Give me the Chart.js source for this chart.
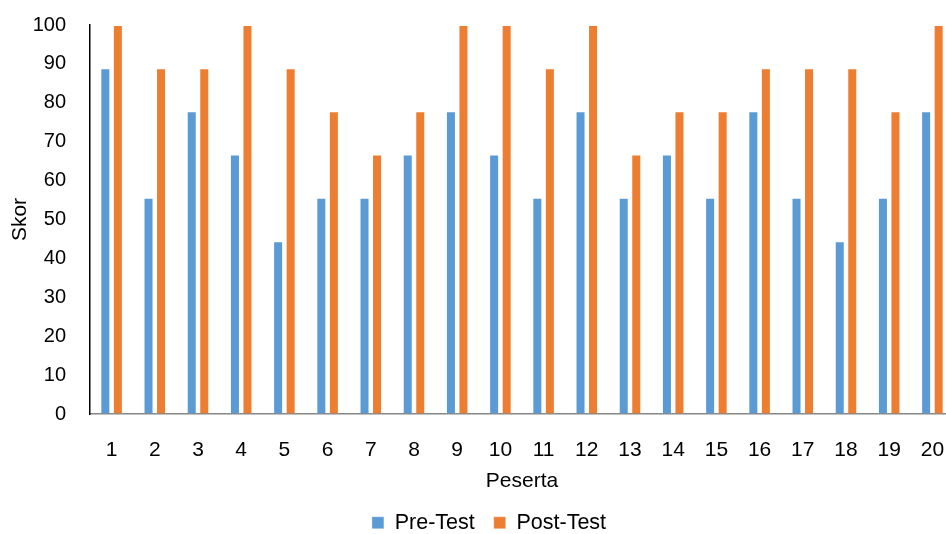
<!DOCTYPE html>
<html>
<head>
<meta charset="utf-8">
<script src="https://cdn.jsdelivr.net/npm/chart.js@4/dist/chart.umd.min.js"></script>
<style>
  html, body { margin: 0; padding: 0; background: #fff; overflow: hidden; }
  #wrap { width: 976px; height: 534px; }
</style>
</head>
<body>
<div id="wrap"><canvas id="chart" width="976" height="534"></canvas></div>
<script>
// Data
const peserta = ['1','2','3','4','5','6','7','8','9','10','11','12','13','14','15','16','17','18','19','20'];
const preTest = [88.9, 55.6, 77.8, 66.7, 44.4, 55.6, 55.6, 66.7, 77.8, 66.7, 55.6, 77.8, 55.6, 66.7, 55.6, 77.8, 55.6, 44.4, 55.6, 77.8];
const postTest = [100, 88.9, 88.9, 100, 88.9, 77.8, 66.7, 77.8, 100, 100, 88.9, 100, 66.7, 77.8, 77.8, 88.9, 88.9, 88.9, 77.8, 100];

const FONT = 'Liberation Sans, Arial, sans-serif';

// legend sits low and a bit to the right in the original (plot is cut at the right edge)
const legendTweak = {
  id: 'legendTweak',
  afterInit(chart) {
    const lg = chart.legend;
    const fit = lg.fit.bind(lg);
    lg.fit = function () {
      fit();
      this.height = 41;
    };
  },
  afterLayout(chart) {
    chart.legend.left += 12;
    chart.legend.right += 12;
  }
};

const ctx = document.getElementById('chart');
new Chart(ctx, {
  type: 'bar',
  data: {
    labels: peserta,
    datasets: [
      {
        label: 'Pre-Test',
        data: preTest,
        backgroundColor: '#5b9bd5',
        borderColor: 'rgba(255,255,255,0.35)',
        borderWidth: 1,
        categoryPercentage: 0.58,
        barPercentage: 0.8
      },
      {
        label: 'Post-Test',
        data: postTest,
        backgroundColor: '#ed7d31',
        borderColor: 'rgba(255,255,255,0.35)',
        borderWidth: 1,
        categoryPercentage: 0.58,
        barPercentage: 0.8
      }
    ]
  },
  plugins: [legendTweak],
  options: {
    responsive: false,
    animation: false,
    layout: {
      padding: { top: 25, right: 22, left: 0, bottom: 0 }
    },
    plugins: {
      tooltip: { enabled: false },
      legend: {
        position: 'bottom',
        labels: {
          color: '#000',
          font: { family: FONT, size: 21.5 },
          boxWidth: 12,
          boxHeight: 12,
          padding: 19
        }
      }
    },
    scales: {
      x: {
        grid: { display: false, drawTicks: false },
        border: { color: '#868686', width: 1.5 },
        ticks: {
          color: '#000',
          font: { family: FONT, size: 21 },
          padding: 24,
          maxRotation: 0
        },
        title: {
          display: true,
          text: 'Peserta',
          color: '#000',
          font: { family: FONT, size: 21 },
          padding: { top: 0, bottom: -1 }
        },
        afterFit: (scale) => { scale.height = 79; }
      },
      y: {
        min: 0,
        max: 100,
        // invisible tick marks keep the labels away from the axis line
        grid: { display: true, drawOnChartArea: false, drawTicks: true, tickLength: 23, tickColor: 'rgba(0,0,0,0)' },
        border: { color: '#000', width: 1.5 },
        ticks: {
          stepSize: 10,
          color: '#000',
          font: { family: FONT, size: 20 },
          padding: 1
        },
        title: {
          display: true,
          text: 'Skor',
          color: '#000',
          font: { family: FONT, size: 21 },
          padding: { top: 8, bottom: 0 }
        },
        afterFit: (scale) => { scale.width = 90; }
      }
    }
  }
});
</script>
</body>
</html>
